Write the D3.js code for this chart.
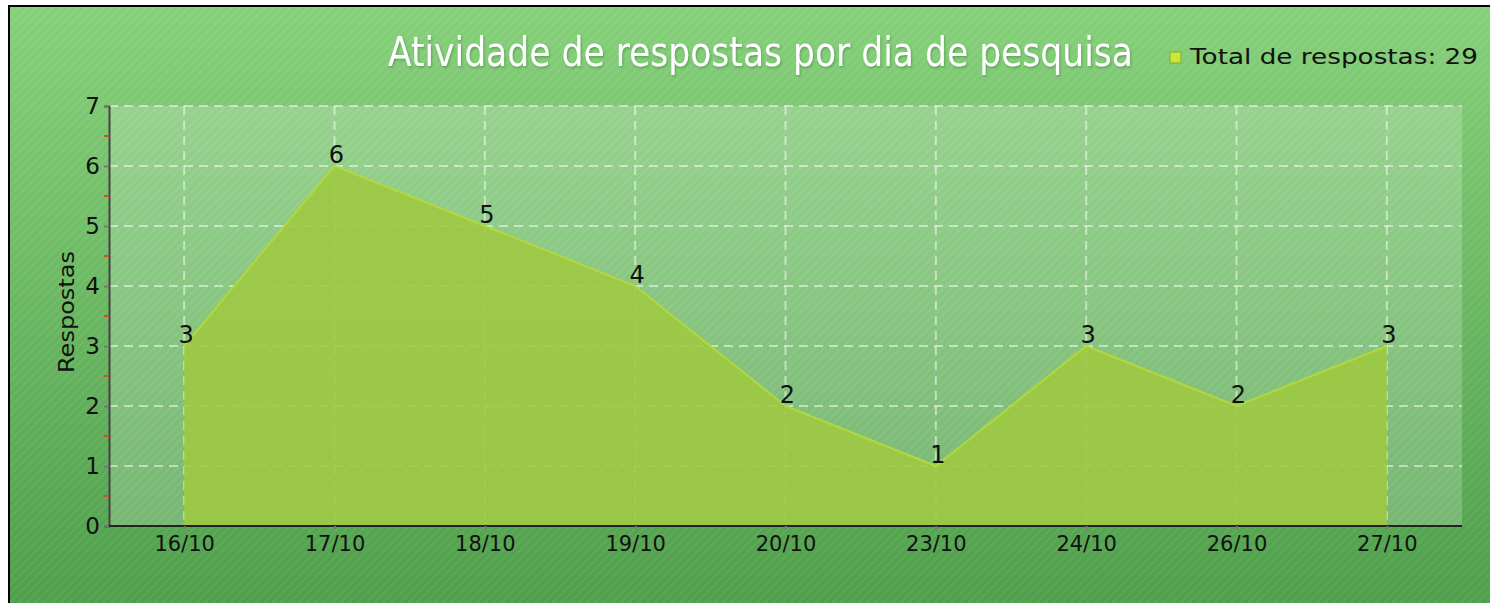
<!DOCTYPE html>
<html>
<head>
<meta charset="utf-8">
<script src="https://cdn.jsdelivr.net/npm/d3@7"></script>
<style>
  html, body { margin: 0; padding: 0; background: #fff; }
  svg { display: block; }
</style>
</head>
<body>
<div id="chart"></div>
<script>
// chart data
const days = ["16/10", "17/10", "18/10", "19/10", "20/10", "23/10", "24/10", "26/10", "27/10"];
const respostas = [3, 6, 5, 4, 2, 1, 3, 2, 3];
const yTicks = [0, 1, 2, 3, 4, 5, 6, 7];
const titulo = "Atividade de respostas por dia de pesquisa";
const legenda = "Total de respostas: 29";
const eixoY = "Respostas";

const width = 1490, height = 603;
const plot = { left: 109, right: 1462, top: 106, bottom: 526 };

const svg = d3.select("#chart").append("svg")
    .attr("width", width)
    .attr("height", height)
    .attr("viewBox", [0, 0, width, height]);

const defs = svg.append("defs");

const bg = defs.append("linearGradient")
    .attr("id", "bg").attr("x1", 0).attr("y1", 0).attr("x2", 0).attr("y2", 1);
bg.append("stop").attr("offset", "0%").attr("stop-color", "#86d07a");
bg.append("stop").attr("offset", "100%").attr("stop-color", "#4f9f4b");

// diagonal stripes texture
const stripes = defs.append("pattern")
    .attr("id", "stripes")
    .attr("width", 6).attr("height", 6)
    .attr("patternUnits", "userSpaceOnUse")
    .attr("patternTransform", "rotate(45)");
stripes.append("rect").attr("width", 2).attr("height", 6)
    .attr("fill", "#fff").attr("opacity", 0.06);

const shadow = defs.append("filter").attr("id", "shadow")
    .attr("x", "-5%").attr("y", "-20%").attr("width", "110%").attr("height", "140%");
shadow.append("feDropShadow")
    .attr("dx", 1).attr("dy", 1.5).attr("stdDeviation", 0.8)
    .attr("flood-color", "#2d6b2a").attr("flood-opacity", 0.45);

// outer frame
svg.append("rect").attr("x", 0).attr("y", 0).attr("width", width).attr("height", height).attr("fill", "#fff");
svg.append("rect").attr("x", 8).attr("y", 5).attr("width", width - 8).attr("height", height - 5).attr("fill", "#000");
svg.append("rect").attr("x", 10).attr("y", 7).attr("width", width - 10).attr("height", height - 7).attr("fill", "url(#bg)");
svg.append("rect").attr("x", 10).attr("y", 7).attr("width", width - 10).attr("height", height - 7).attr("fill", "url(#stripes)");

const x = d3.scalePoint()
    .domain(days)
    .range([plot.left, plot.right])
    .padding(0.5);

const y = d3.scaleLinear()
    .domain([0, 7])
    .range([plot.bottom, plot.top]);

// plot background
svg.append("rect")
    .attr("x", plot.left).attr("y", plot.top)
    .attr("width", plot.right - plot.left).attr("height", plot.bottom - plot.top)
    .attr("fill", "#fff")
    .attr("fill-opacity", 0.2);

// grid
const grid = svg.append("g")
    .attr("stroke", "#fff")
    .attr("stroke-opacity", 0.5)
    .attr("stroke-width", 2);

grid.selectAll("line.h")
    .data(yTicks.filter(d => d > 0))
    .join("line")
        .attr("class", "h")
        .attr("x1", plot.left).attr("x2", plot.right)
        .attr("y1", d => y(d)).attr("y2", d => y(d))
        .attr("stroke-dasharray", "9,6");

grid.selectAll("line.v")
    .data(days)
    .join("line")
        .attr("class", "v")
        .attr("x1", d => x(d)).attr("x2", d => x(d))
        .attr("y1", plot.top).attr("y2", plot.bottom)
        .attr("stroke-dasharray", "9,6");

// area
const area = d3.area()
    .x((d, i) => x(days[i]))
    .y0(y(0))
    .y1(d => y(d));

const line = d3.line()
    .x((d, i) => x(days[i]))
    .y(d => y(d));

svg.append("path")
    .datum(respostas)
    .attr("d", area)
    .attr("fill", "#9ec943")
    .attr("fill-opacity", 0.9);

svg.append("path")
    .datum(respostas)
    .attr("d", line)
    .attr("fill", "none")
    .attr("stroke", "#b2d83c")
    .attr("stroke-width", 2);

// value labels
svg.append("g")
    .attr("font-family", "DejaVu Sans, sans-serif")
    .attr("font-size", 24)
    .attr("fill", "#111")
    .attr("text-anchor", "middle")
    .selectAll("text")
    .data(respostas)
    .join("text")
        .attr("x", (d, i) => x(days[i]) + 2)
        .attr("y", d => y(d) - 3)
        .text(d => d);

// y axis
const yAxis = svg.append("g")
    .attr("transform", `translate(${plot.left},0)`)
    .call(d3.axisLeft(y).tickValues(yTicks).tickSize(5).tickPadding(4).tickFormat(d3.format("d")));
yAxis.select(".domain").attr("stroke", "#444").attr("stroke-width", 2);
yAxis.selectAll(".tick line").attr("stroke", "#777").attr("stroke-width", 2);
yAxis.selectAll(".tick text")
    .attr("font-family", "DejaVu Sans, sans-serif")
    .attr("font-size", 23)
    .attr("fill", "#111");

// minor ticks in red
svg.append("g")
    .selectAll("line")
    .data(yTicks.slice(0, -1).map(d => d + 0.5))
    .join("line")
        .attr("x1", plot.left - 5).attr("x2", plot.left)
        .attr("y1", d => y(d)).attr("y2", d => y(d))
        .attr("stroke", "#d0502a")
        .attr("stroke-width", 2);

// x axis
const xAxis = svg.append("g")
    .attr("transform", `translate(0,${plot.bottom})`)
    .call(d3.axisBottom(x).tickSize(3).tickPadding(7));
xAxis.select(".domain").attr("stroke", "#222").attr("stroke-width", 2)
    .attr("d", `M${plot.left},0H${plot.right}`);
xAxis.selectAll(".tick line").attr("stroke", "#777").attr("stroke-width", 2);
xAxis.selectAll(".tick text")
    .attr("font-family", "DejaVu Sans, sans-serif")
    .attr("font-size", 21)
    .attr("fill", "#111");

// y axis title
svg.append("text")
    .attr("transform", `translate(74,312) rotate(-90)`)
    .attr("text-anchor", "middle")
    .attr("font-family", "DejaVu Sans, sans-serif")
    .attr("font-size", 21)
    .attr("fill", "#111")
    .attr("textLength", 122)
    .attr("lengthAdjust", "spacingAndGlyphs")
    .text(eixoY);

// title
svg.append("text")
    .attr("x", 388)
    .attr("y", 66)
    .attr("font-family", "DejaVu Sans Condensed, DejaVu Sans, sans-serif")
    .attr("font-size", 40)
    .attr("fill", "#fff")
    .attr("textLength", 745)
    .attr("lengthAdjust", "spacingAndGlyphs")
    .attr("filter", "url(#shadow)")
    .text(titulo);

// legend
svg.append("rect")
    .attr("x", 1170).attr("y", 52)
    .attr("width", 11).attr("height", 11)
    .attr("fill", "#c9e63a")
    .attr("stroke", "#8aa82a")
    .attr("stroke-width", 1);

svg.append("text")
    .attr("x", 1190)
    .attr("y", 64)
    .attr("font-family", "DejaVu Sans, sans-serif")
    .attr("font-size", 22)
    .attr("fill", "#111")
    .attr("textLength", 288)
    .attr("lengthAdjust", "spacingAndGlyphs")
    .text(legenda);
</script>
</body>
</html>
